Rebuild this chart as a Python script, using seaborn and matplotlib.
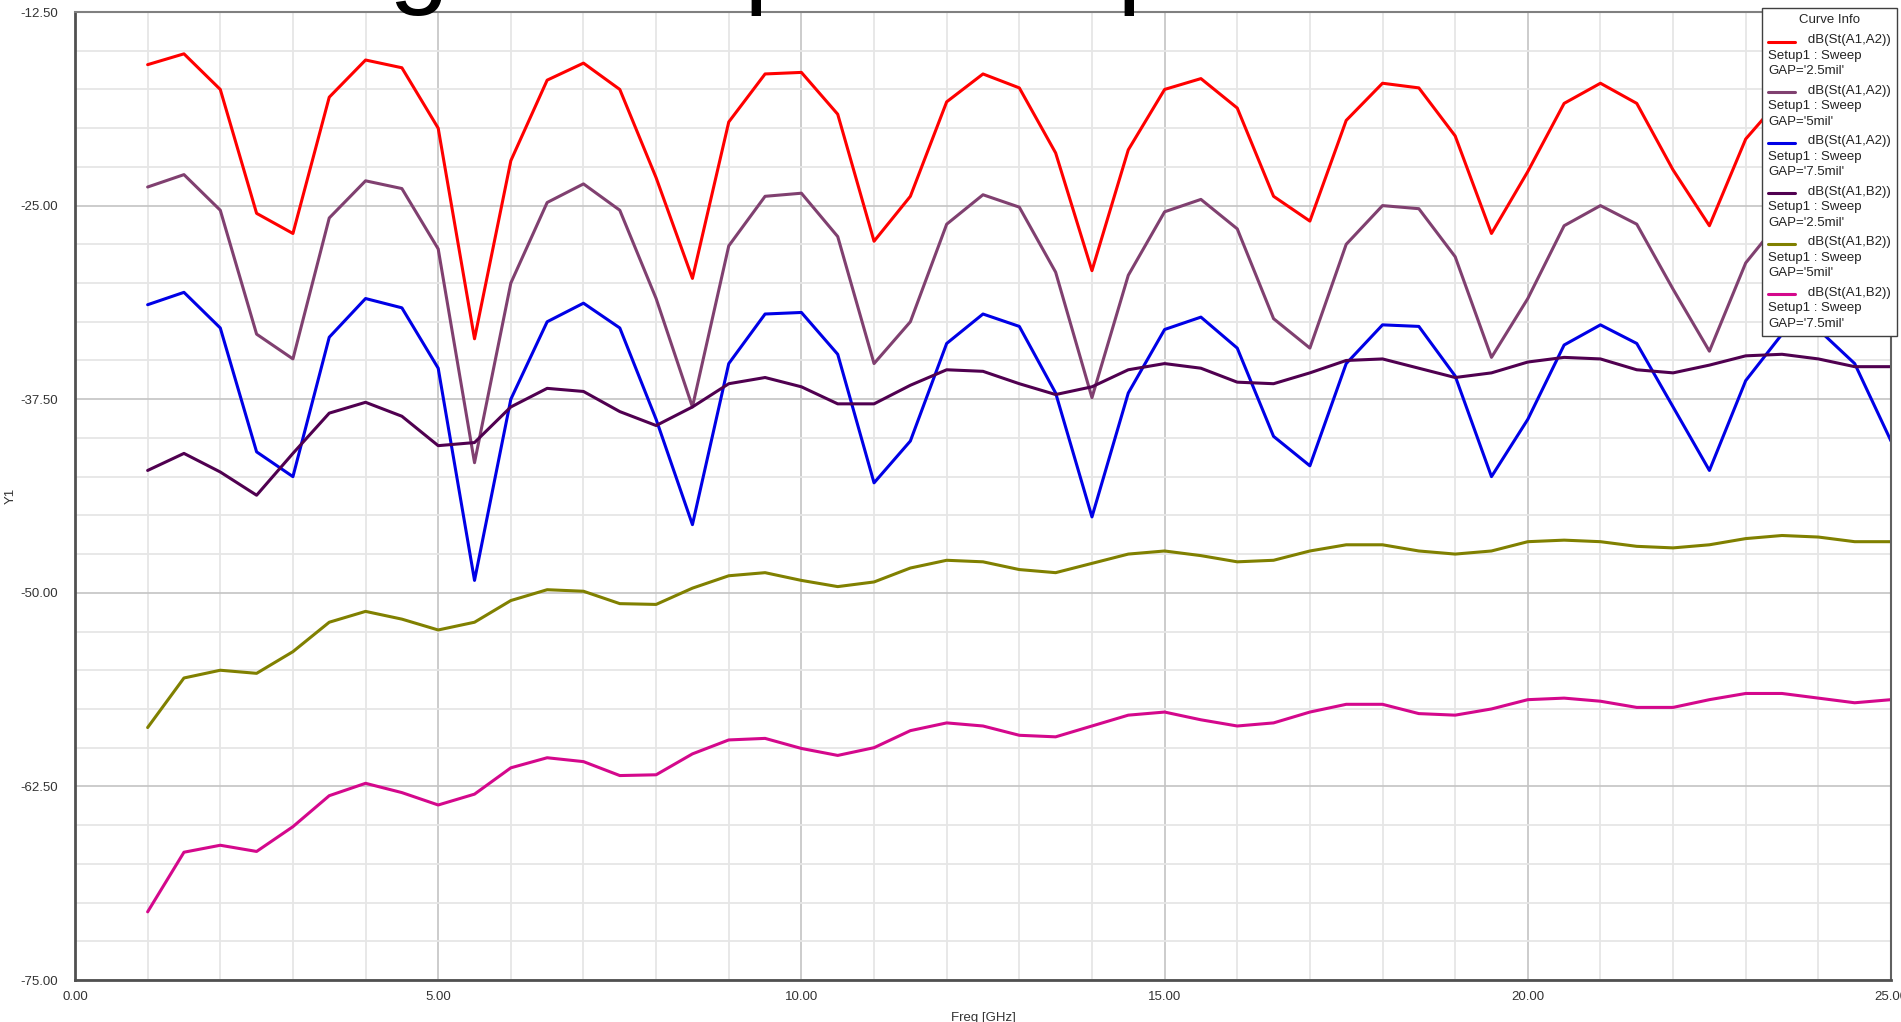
import numpy as np
import pandas as pd
import seaborn as sns
import matplotlib.pyplot as plt
from matplotlib.lines import Line2D
from matplotlib.legend_handler import HandlerLine2D
from matplotlib.ticker import MultipleLocator, FormatStrFormatter

sns.set_style("white")
plt.rcParams['font.family'] = ['Liberation Sans', 'DejaVu Sans']

# frequency sweep points [GHz]
freq = [1.0, 1.5, 2.0, 2.5, 3.0, 3.5, 4.0, 4.5, 5.0, 5.5,
        6.0, 6.5, 7.0, 7.5, 8.0, 8.5, 9.0, 9.5, 10.0, 10.5,
        11.0, 11.5, 12.0, 12.5, 13.0, 13.5, 14.0, 14.5, 15.0, 15.5,
        16.0, 16.5, 17.0, 17.5, 18.0, 18.5, 19.0, 19.5, 20.0, 20.5,
        21.0, 21.5, 22.0, 22.5, 23.0, 23.5, 24.0, 24.5, 25.0]

# dB(St(A1,A2)) for the three gaps
a2_gap25 = [-15.9, -15.2, -17.5, -25.5, -26.8, -18.0, -15.6, -16.1, -20.0, -33.6,
            -22.1, -16.9, -15.8, -17.5, -23.2, -29.7, -19.6, -16.5, -16.4, -19.1,
            -27.3, -24.4, -18.3, -16.5, -17.4, -21.6, -29.2, -21.4, -17.5, -16.8,
            -18.7, -24.4, -26.0, -19.5, -17.1, -17.4, -20.5, -26.8, -22.8, -18.4,
            -17.1, -18.4, -22.7, -26.3, -20.7, -18.0, -16.6, -17.0, -19.5]
a2_gap5 = [-23.8, -23.0, -25.3, -33.3, -34.9, -25.8, -23.4, -23.9, -27.8, -41.6,
           -30.0, -24.8, -23.6, -25.3, -31.0, -38.0, -27.6, -24.4, -24.2, -27.0,
           -35.2, -32.5, -26.2, -24.3, -25.1, -29.3, -37.4, -29.5, -25.4, -24.6,
           -26.5, -32.3, -34.2, -27.5, -25.0, -25.2, -28.3, -34.8, -31.0, -26.3,
           -25.0, -26.2, -30.4, -34.4, -28.7, -25.8, -24.6, -25.3, -27.5]
a2_gap75 = [-31.4, -30.6, -32.9, -40.9, -42.5, -33.5, -31.0, -31.6, -35.5, -49.2,
            -37.5, -32.5, -31.3, -32.9, -38.8, -45.6, -35.2, -32.0, -31.9, -34.6,
            -42.9, -40.2, -33.9, -32.0, -32.8, -37.1, -45.1, -37.1, -33.0, -32.2,
            -34.2, -39.9, -41.8, -35.2, -32.7, -32.8, -36.0, -42.5, -38.8, -34.0,
            -32.7, -33.9, -38.0, -42.1, -36.3, -33.3, -33.0, -35.2, -40.2]

# dB(St(A1,B2)) for the three gaps
b2_gap25 = [-42.1, -41.0, -42.2, -43.7, -41.0, -38.4, -37.7, -38.6, -40.5, -40.3,
            -38.0, -36.8, -37.0, -38.3, -39.2, -38.0, -36.5, -36.1, -36.7, -37.8,
            -37.8, -36.6, -35.6, -35.7, -36.5, -37.2, -36.7, -35.6, -35.2, -35.5,
            -36.4, -36.5, -35.8, -35.0, -34.9, -35.5, -36.1, -35.8, -35.1, -34.8,
            -34.9, -35.6, -35.8, -35.3, -34.7, -34.6, -34.9, -35.4, -35.4]
b2_gap5 = [-58.7, -55.5, -55.0, -55.2, -53.8, -51.9, -51.2, -51.7, -52.4, -51.9,
           -50.5, -49.8, -49.9, -50.7, -50.75, -49.7, -48.9, -48.7, -49.2, -49.6,
           -49.3, -48.4, -47.9, -48.0, -48.5, -48.7, -48.1, -47.5, -47.3, -47.6,
           -48.0, -47.9, -47.3, -46.9, -46.9, -47.3, -47.5, -47.3, -46.7, -46.6,
           -46.7, -47.0, -47.1, -46.9, -46.5, -46.3, -46.4, -46.7, -46.7]
b2_gap75 = [-70.6, -66.75, -66.3, -66.7, -65.1, -63.1, -62.3, -62.9, -63.7, -63.0,
            -61.3, -60.65, -60.9, -61.8, -61.75, -60.4, -59.5, -59.4, -60.05, -60.5,
            -60.0, -58.9, -58.4, -58.6, -59.2, -59.3, -58.6, -57.9, -57.7, -58.2,
            -58.6, -58.4, -57.7, -57.2, -57.2, -57.8, -57.9, -57.5, -56.9, -56.8,
            -57.0, -57.4, -57.4, -56.9, -56.5, -56.5, -56.8, -57.1, -56.9]

measures = ["dB(St(A1,A2))"] * 3 + ["dB(St(A1,B2))"] * 3
gaps = ["2.5mil", "5mil", "7.5mil", "2.5mil", "5mil", "7.5mil"]
series = [a2_gap25, a2_gap5, a2_gap75, b2_gap25, b2_gap5, b2_gap75]
colors = ["#ff0000", "#804070", "#0000e6", "#500050", "#808000", "#d4088c"]

names = [m + " " + g for m, g in zip(measures, gaps)]
data = pd.concat([pd.DataFrame({"freq": freq, "db": v, "curve": n})
                  for n, v in zip(names, series)], ignore_index=True)


class TopLineHandler(HandlerLine2D):
    # put the legend sample on the first text line instead of the middle one
    def __init__(self, shift, **kw):
        super().__init__(**kw)
        self.shift = shift

    def create_artists(self, legend, orig_handle, xdescent, ydescent,
                       width, height, fontsize, trans):
        arts = super().create_artists(legend, orig_handle, xdescent, ydescent,
                                      width, height, fontsize, trans)
        for a in arts:
            a.set_ydata(np.asarray(a.get_ydata()) + self.shift)
        return arts


W, H = 1901, 1022
fig = plt.figure(figsize=(W / 100, H / 100), dpi=100)
ax = fig.add_axes([75 / W, 1 - 980 / H, (1891 - 75) / W, (980 - 12) / H])

sns.lineplot(data=data, x="freq", y="db", hue="curve", hue_order=names,
             palette=dict(zip(names, colors)), linewidth=2.2, errorbar=None,
             legend=False, ax=ax)

ax.set_xlim(0, 25)
ax.set_ylim(-75, -12.5)
ax.xaxis.set_major_locator(MultipleLocator(5))
ax.xaxis.set_minor_locator(MultipleLocator(1))
ax.yaxis.set_major_locator(MultipleLocator(12.5))
ax.yaxis.set_minor_locator(MultipleLocator(2.5))
ax.xaxis.set_major_formatter(FormatStrFormatter("%.2f"))
ax.yaxis.set_major_formatter(FormatStrFormatter("%.2f"))

ax.set_axisbelow(True)
ax.grid(which="major", color="#c4c4c4", linewidth=1.2)
ax.grid(which="minor", color="#e6e6e6", linewidth=1.3)

ax.tick_params(axis="y", which="major", direction="out", length=8, width=1.2,
               color="#505050", pad=4, labelsize=9.5, labelcolor="#333333")
ax.tick_params(axis="y", which="minor", direction="out", length=3.5, width=1.2,
               color="#505050")
ax.tick_params(axis="x", which="major", direction="out", length=5, width=1.2,
               color="#505050", pad=3, labelsize=9.5, labelcolor="#333333")
ax.tick_params(axis="x", which="minor", direction="out", length=5, width=1.2,
               color="#505050")

for side, c, lw in [("left", "#505050", 2), ("bottom", "#505050", 2),
                    ("top", "#808080", 1.5), ("right", "#606060", 1.5)]:
    ax.spines[side].set_color(c)
    ax.spines[side].set_linewidth(lw)

ax.set_xlabel("Freq [GHz]", fontsize=9.5, color="#333333")
ax.set_ylabel("Y1", fontsize=9.5, color="#333333")
ax.xaxis.set_label_coords(0.5, -0.033)
ax.yaxis.set_label_coords(-0.032, 0.5)

labels = ["           " + m + "\nSetup1 : Sweep\nGAP='" + g + "'"
          for m, g in zip(measures, gaps)]
leg = ax.legend(ax.get_lines()[:6], labels, title="Curve Info",
                loc="upper right", bbox_to_anchor=(1897 / W, 1 - 8 / H),
                bbox_transform=fig.transFigure, borderaxespad=0,
                fontsize=9.5, title_fontsize=9.5, handlelength=2.0,
                handletextpad=-2.0, labelspacing=0.55, borderpad=0.45,
                frameon=True, fancybox=False, framealpha=1,
                edgecolor="#404040", handler_map={Line2D: TopLineHandler(10)})
leg.get_frame().set_linewidth(1.0)
leg._legend_box.sep = 6
for t in leg.get_texts():
    t.set_linespacing(1.4)
    t.set_color("#222222")

# big title sitting above the canvas, only its descenders show
fig.text(76 / W, 1 + 6 / H, "Routing to Gaps Comparison", fontsize=78,
         ha="left", va="baseline", color="black")

fig.savefig("out.png", dpi=100)
